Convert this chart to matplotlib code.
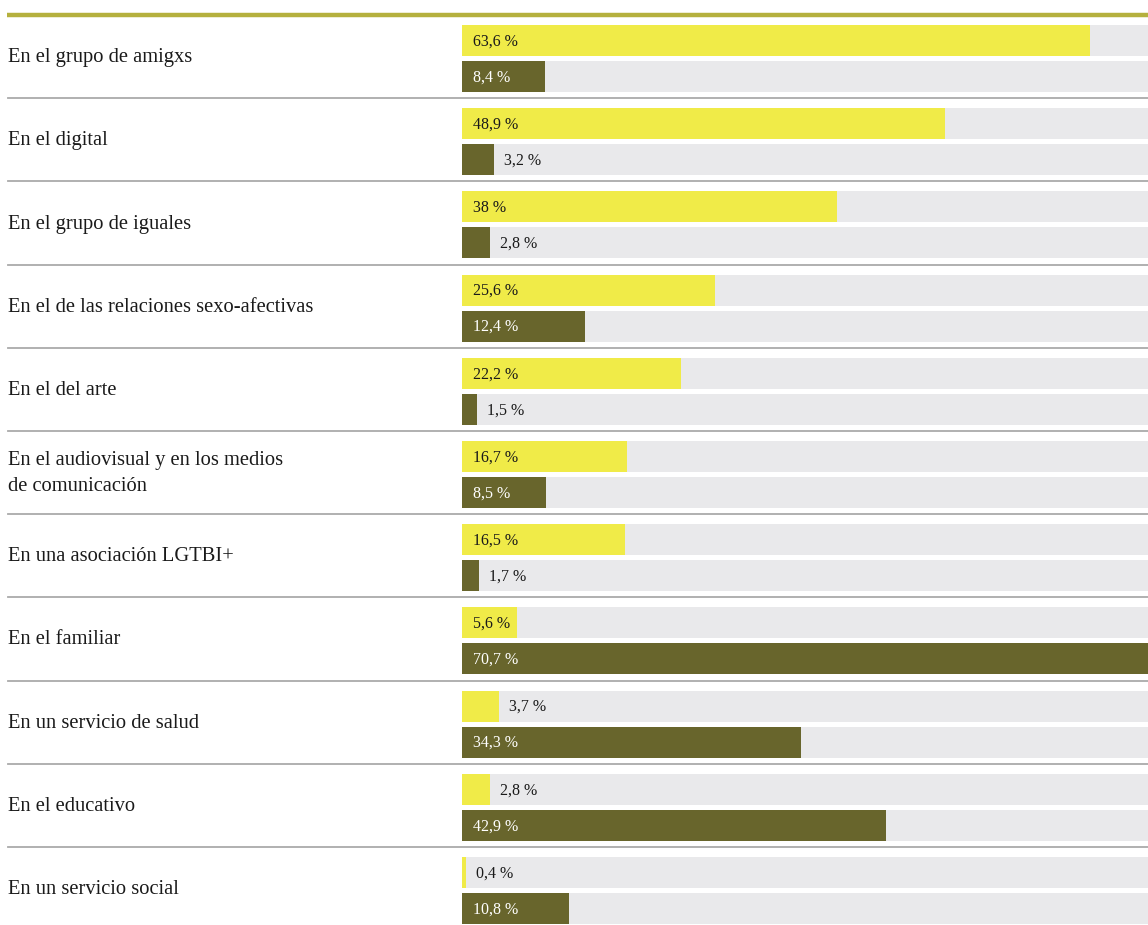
import matplotlib
matplotlib.use('Agg')
import matplotlib.pyplot as plt
from matplotlib.lines import Line2D
import matplotlib.transforms as mtransforms

# --- Data ---
categories = [
    "En el grupo de amigxs",
    "En el digital",
    "En el grupo de iguales",
    "En el de las relaciones sexo-afectivas",
    "En el del arte",
    "En el audiovisual y en los medios\nde comunicación",
    "En una asociación LGTBI+",
    "En el familiar",
    "En un servicio de salud",
    "En el educativo",
    "En un servicio social",
]
values_top = [63.6, 48.9, 38.0, 25.6, 22.2, 16.7, 16.5, 5.6, 3.7, 2.8, 0.4]
values_bottom = [8.4, 3.2, 2.8, 12.4, 1.5, 8.5, 1.7, 70.7, 34.3, 42.9, 10.8]
labels_top = ["63,6 %", "48,9 %", "38 %", "25,6 %", "22,2 %", "16,7 %",
              "16,5 %", "5,6 %", "3,7 %", "2,8 %", "0,4 %"]
labels_bottom = ["8,4 %", "3,2 %", "2,8 %", "12,4 %", "1,5 %", "8,5 %",
                 "1,7 %", "70,7 %", "34,3 %", "42,9 %", "10,8 %"]

# --- Style ---
YELLOW = '#f0eb48'
OLIVE = '#68652c'
TRACK = '#e9e9eb'
RULE = '#aaaaaa'
TOP_RULE = '#b5b03e'
DARK = '#1a1a1a'
FONT = 'Liberation Serif'

W, H = 1148, 925
ROW_H = 83.2
TOP = 15
X0 = 462            # left edge of the bars, pixels
PX_PER_PCT = 9.88
XMAX = (W - X0) / PX_PER_PCT
INSIDE_MIN = 5.0    # bars narrower than this get their label outside

fig = plt.figure(figsize=(W / 100, H / 100), dpi=100)
ax = fig.add_axes([X0 / W, 0, 1 - X0 / W, 1])
ax.set_xlim(0, XMAX)
ax.set_ylim(H, 0)
ax.axis('off')

trans_fig_x = mtransforms.blended_transform_factory(fig.transFigure, ax.transData)
px = 1 / W  # one pixel in figure fraction

# top rule
fig.add_artist(Line2D([7 * px, 1], [1 - TOP / H] * 2, color=TOP_RULE, lw=3.2,
                      solid_capstyle='butt'))

for i, cat in enumerate(categories):
    row_top = TOP + ROW_H * i
    y_a = row_top + 25.5
    y_b = row_top + 61.5

    # grey tracks behind both bars
    ax.barh([y_a, y_b], [XMAX, XMAX], height=31, left=0, color=TRACK, zorder=1)
    ax.barh(y_a, values_top[i], height=31, color=YELLOW, zorder=2)
    ax.barh(y_b, values_bottom[i], height=31, color=OLIVE, zorder=2)

    for val, lab, y, inside_col in [(values_top[i], labels_top[i], y_a, DARK),
                                    (values_bottom[i], labels_bottom[i], y_b, 'white')]:
        if val >= INSIDE_MIN:
            ax.text(11 / PX_PER_PCT, y + 1, lab, color=inside_col, va='center', ha='left',
                    fontsize=11.5, family=FONT, zorder=3)
        else:
            ax.text(val + 10 / PX_PER_PCT, y + 1, lab, color=DARK, va='center', ha='left',
                    fontsize=11.5, family=FONT, zorder=3)

    ax.text(8 * px, row_top + ROW_H / 2 + 1, cat, transform=trans_fig_x, va='center',
            ha='left', fontsize=14.8, family=FONT, color=DARK, linespacing=1.55)

    if i < len(categories) - 1:
        y_sep = row_top + ROW_H
        fig.add_artist(Line2D([8 * px, 1], [1 - y_sep / H] * 2, color=RULE, lw=1.3))

fig.savefig('out.png', dpi=100, facecolor='white')
